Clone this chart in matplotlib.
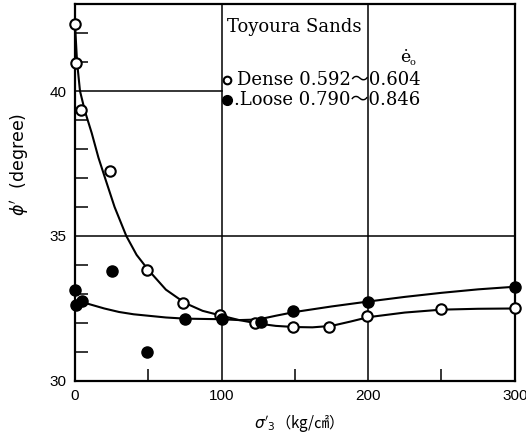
import matplotlib
matplotlib.use('Agg')
import matplotlib.pyplot as plt

# Dense sand (open circles)
dense_x = [0, 1, 4, 24, 49, 74, 99, 123, 149, 173, 199, 250, 300]
dense_y = [42.3, 40.97, 39.34, 37.24, 33.83, 32.69, 32.28, 32.0, 31.86, 31.86, 32.24, 32.48, 32.5]

# Loose sand (filled circles)
loose_x = [0, 1, 5, 25, 49, 75, 100, 127, 149, 200, 300]
loose_y = [33.14, 32.62, 32.76, 33.79, 31.0, 32.14, 32.14, 32.03, 32.41, 32.72, 33.24]

# fitted curves
dense_cx = [0, 1.4, 3.4, 6.8, 11.4, 16, 20.5, 27, 35, 42, 50, 62, 75, 87, 100, 112, 125, 137, 150, 162, 175, 188, 200, 225, 250, 275, 300]
dense_cy = [42.3, 41.0, 40.0, 39.3, 38.55, 37.7, 37.0, 36.0, 35.0, 34.35, 33.83, 33.15, 32.69, 32.42, 32.25, 32.1, 31.98, 31.9, 31.86, 31.85, 31.9, 32.05, 32.2, 32.36, 32.46, 32.49, 32.5]
loose_cx = [9, 20, 30, 40, 50, 62, 75, 87, 100, 112, 125, 137, 150, 175, 200, 225, 250, 275, 300]
loose_cy = [32.66, 32.5, 32.38, 32.3, 32.25, 32.19, 32.15, 32.14, 32.13, 32.1, 32.12, 32.25, 32.38, 32.57, 32.74, 32.9, 33.04, 33.16, 33.25]

fig = plt.figure(figsize=(5.26, 4.48), dpi=100)
ax = fig.add_axes([0.1426, 0.1496, 0.836, 0.8414])

# frame lines
ax.axvline(100, color='black', lw=1.1, zorder=1)
ax.axvline(200, color='black', lw=1.1, zorder=1)
ax.axhline(35, color='black', lw=1.1, zorder=1)
ax.plot([0, 100], [40, 40], color='black', lw=1.1, zorder=1)

ax.plot(dense_cx, dense_cy, color='black', lw=1.5, zorder=2)
ax.plot(loose_cx, loose_cy, color='black', lw=1.5, zorder=2)

ax.plot(dense_x, dense_y, 'o', ms=7.5, mfc='white', mec='black', mew=1.5, clip_on=False, zorder=3)
ax.plot(loose_x, loose_y, 'o', ms=8, mfc='black', mec='black', clip_on=False, zorder=3)

ax.set_xlim(0, 300)
ax.set_ylim(30, 43)
ax.set_xticks([0, 100, 200, 300])
ax.set_xticks([50, 150, 250], minor=True)
ax.set_yticks([30, 35, 40])
ax.set_yticks([31, 32, 33, 34, 36, 37, 38, 39, 41, 42], minor=True)
ax.tick_params(which='major', length=0, pad=6, labelsize=11)
ax.tick_params(which='minor', direction='in', length=9, width=1.1)
for lab in ax.get_xticklabels() + ax.get_yticklabels():
    lab.set_family('Liberation Sans')
for s in ax.spines.values():
    s.set_linewidth(1.6)

ax.set_ylabel("$\\phi'$  (degree)", fontsize=12.5)
ax.yaxis.set_label_coords(-0.1, 0.575)
ax.set_xlabel("$\\sigma'_3$（kg/㎠）", fontsize=11, family=['Noto Sans CJK JP', 'DejaVu Sans'], labelpad=6)

# legend block
ser = ['DejaVu Serif', 'Noto Sans CJK JP']
ax.text(104, 42.2, 'Toyoura Sands', fontsize=13, family=ser, va='center')
ax.text(222, 41.15, 'ė', fontsize=12.5, family=ser, va='center')
ax.text(228.5, 41.0, 'o', fontsize=7, family=ser, va='center')
ax.plot([103.5], [40.38], 'o', ms=5.5, mfc='white', mec='black', mew=1.5)
ax.plot([103.5], [39.69], 'o', ms=7, mfc='black', mec='black')
ax.text(110.5, 40.38, 'Dense 0.592～0.604', fontsize=13, family=ser, va='center')
ax.text(108.5, 39.69, '.Loose 0.790～0.846', fontsize=13, family=ser, va='center')

fig.savefig('out.png', dpi=100)
